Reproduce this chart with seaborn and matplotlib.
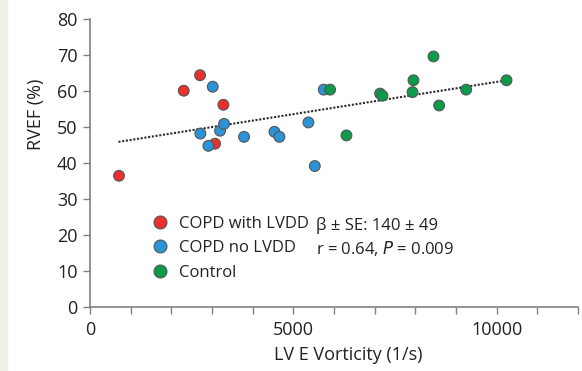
import matplotlib
matplotlib.use("Agg")
import matplotlib.pyplot as plt
import seaborn as sns
import pandas as pd
from matplotlib.patches import Rectangle
from matplotlib.ticker import MultipleLocator

# ---- data ----
red_x = [713, 2305, 2706, 3280, 3075]
red_y = [36.5, 60.1, 64.4, 56.2, 45.4]
blue_x = [3018, 2714, 2911, 3198, 3296, 3788, 4535, 4658, 5371, 5528, 5748]
blue_y = [61.2, 48.2, 44.8, 49.0, 50.9, 47.3, 48.7, 47.3, 51.3, 39.2, 60.4]
green_x = [5904, 6306, 7134, 7192, 8446, 7954, 7930, 8585, 9250, 10242]
green_y = [60.4, 47.7, 59.3, 58.7, 69.6, 63.0, 59.7, 56.0, 60.4, 63.0]
groups = ["COPD with LVDD", "COPD no LVDD", "Control"]
trend_x = [700, 10250]
trend_y = [45.9, 63.0]
x_ticks = [0, 5000, 10000]
y_ticks = [0, 10, 20, 30, 40, 50, 60, 70, 80]

df = pd.DataFrame({
    "x": red_x + blue_x + green_x,
    "y": red_y + blue_y + green_y,
    "group": [groups[0]] * len(red_x) + [groups[1]] * len(blue_x) + [groups[2]] * len(green_x),
})

sns.set_style("white")
plt.rcParams["font.family"] = ["Open Sans", "DejaVu Sans"]

fig = plt.figure(figsize=(5.82, 3.71), dpi=100)
fig.patches.append(Rectangle((0, 0), 7 / 582, 1, transform=fig.transFigure,
                             color="#efefe9", zorder=0))
ax = fig.add_axes([90 / 582, (371 - 307.3) / 371, 488 / 582, 288.3 / 371])

palette = {groups[0]: "#e8302e", groups[1]: "#2b94d6", groups[2]: "#0b9c4a"}
ax.plot(trend_x, trend_y, linestyle=(0, (1, 0.8)), color="#2a2a2a", linewidth=1.5, zorder=1)
sns.scatterplot(data=df, x="x", y="y", hue="group", palette=palette, s=60,
                edgecolor="#555555", linewidth=0.8, ax=ax, zorder=3, legend=True)

ax.set_xlim(0, 12000)
ax.set_ylim(0, 80)
ax.set_xticks(x_ticks)
ax.set_yticks(y_ticks)
ax.xaxis.set_minor_locator(MultipleLocator(1000))
ax.tick_params(axis="both", which="both", direction="out", length=5, width=1,
               color="#808080", labelsize=13, labelcolor="#222222")
ax.tick_params(axis="x", which="both", bottom=True, pad=5)
ax.tick_params(axis="y", which="both", left=True, pad=4)
for s in ["top", "right"]:
    ax.spines[s].set_visible(False)
for s in ["left", "bottom"]:
    ax.spines[s].set_color("#808080")
    ax.spines[s].set_linewidth(1.2)

ax.set_xlabel("LV E Vorticity (1/s)", fontsize=13, color="#222222")
ax.set_ylabel("RVEF (%)", fontsize=13, color="#222222")
ax.xaxis.set_label_coords(0.53, -0.135)
ax.yaxis.set_label_coords(-0.092, 0.67)

handles, labels = ax.get_legend_handles_labels()
leg = ax.legend(handles, labels, loc="upper left", bbox_to_anchor=(152 / 582, (371 - 216) / 371),
                bbox_transform=fig.transFigure, frameon=False, fontsize=12,
                handlelength=1.0, handletextpad=0.6, labelspacing=0.5,
                borderpad=0, borderaxespad=0, markerscale=1.2)
for t in leg.get_texts():
    t.set_color("#222222")

fig.text(316 / 582, 1 - 226 / 371, "β ± SE: 140 ± 49", fontsize=12, color="#222222", va="center")
fig.text(316 / 582, 1 - 249 / 371, "r = 0.64, $\\it{P}$ = 0.009", fontsize=12, color="#222222", va="center")

fig.savefig("out.png", dpi=100)
